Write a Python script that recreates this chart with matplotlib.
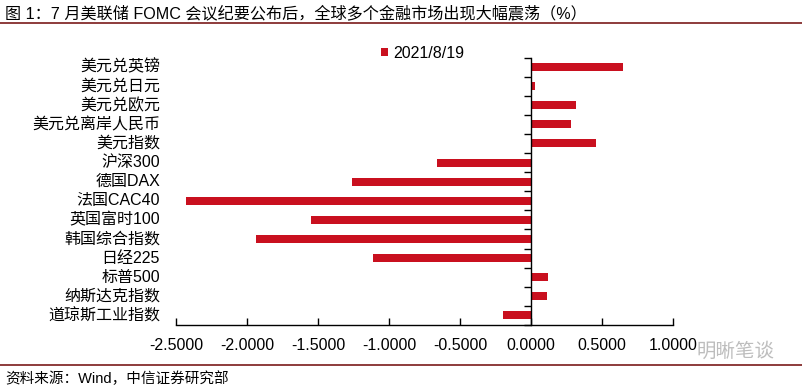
import matplotlib
matplotlib.use("Agg")
import matplotlib.pyplot as plt
import numpy as np

plt.rcParams['font.family'] = ['Liberation Sans', 'Noto Sans CJK SC', 'DejaVu Sans']

categories = ['美元兑英镑', '美元兑日元', '美元兑欧元', '美元兑离岸人民币', '美元指数',
              '沪深300', '德国DAX', '法国CAC40', '英国富时100', '韩国综合指数',
              '日经225', '标普500', '纳斯达克指数', '道琼斯工业指数']
values = [0.65, 0.025, 0.32, 0.28, 0.46,
          -0.66, -1.26, -2.43, -1.55, -1.94,
          -1.11, 0.12, 0.11, -0.195]
series_name = '2021/8/19'
xticks = [-2.5, -2.0, -1.5, -1.0, -0.5, 0.0, 0.5, 1.0]

title = '图 1：7 月美联储 FOMC 会议纪要公布后，全球多个金融市场出现大幅震荡（%）'
source = '资料来源：Wind，中信证券研究部'

bar_color = '#C9101F'
line_color = '#7A1A1A'

fig = plt.figure(figsize=(8.02, 3.90), dpi=100)
W, H = 802, 390
ax = fig.add_axes([176 / W, 65 / H, (673 - 176) / W, (332.5 - 65) / H])

y = np.arange(len(categories))
ax.barh(y, values, height=0.42, color=bar_color, label=series_name, zorder=2)

ax.set_xlim(-2.5, 1.0)
ax.set_ylim(len(categories) - 0.5, -0.5)

ax.set_xticks(xticks)
ax.set_xticklabels([f'{v:.4f}' for v in xticks], fontsize=11.5)
ax.tick_params(axis='x', direction='in', length=5, width=1, pad=9, colors='black')

ax.spines['left'].set_position(('data', 0))
ax.set_yticks(np.arange(len(categories) + 1) - 0.5)
ax.set_yticklabels([])
ax.tick_params(axis='y', direction='out', length=5, width=1)
for s in ['top', 'right']:
    ax.spines[s].set_visible(False)
ax.spines['left'].set_linewidth(1)
ax.spines['bottom'].set_linewidth(1)

trans = ax.get_yaxis_transform()
for yi, cat in zip(y, categories):
    ax.text(-0.032, yi, cat, transform=trans, ha='right', va='center', fontsize=11.5)

leg = ax.legend(loc='center left', bbox_to_anchor=(381 / W, 1 - 53 / H), bbox_transform=fig.transFigure,
                frameon=False, fontsize=11.5, handlelength=0.45, handleheight=0.45,
                handletextpad=0.3, borderaxespad=0, borderpad=0)

# title and rules
fig.text(5 / W, 1 - 13 / H, title, ha='left', va='center', fontsize=11.6)
fig.add_artist(plt.Line2D([0, 1], [1 - 23 / H, 1 - 23 / H], color=line_color, lw=1.2))
fig.add_artist(plt.Line2D([0, 1], [1 - 365 / H, 1 - 365 / H], color=line_color, lw=1.2))
fig.text(5 / W, 1 - 379 / H, source, ha='left', va='center', fontsize=10.5)
fig.text(697 / W, 1 - 352 / H, '明晰笔谈', ha='left', va='center', fontsize=14, color='#BDBDBD')

fig.savefig('out.png', dpi=100)
